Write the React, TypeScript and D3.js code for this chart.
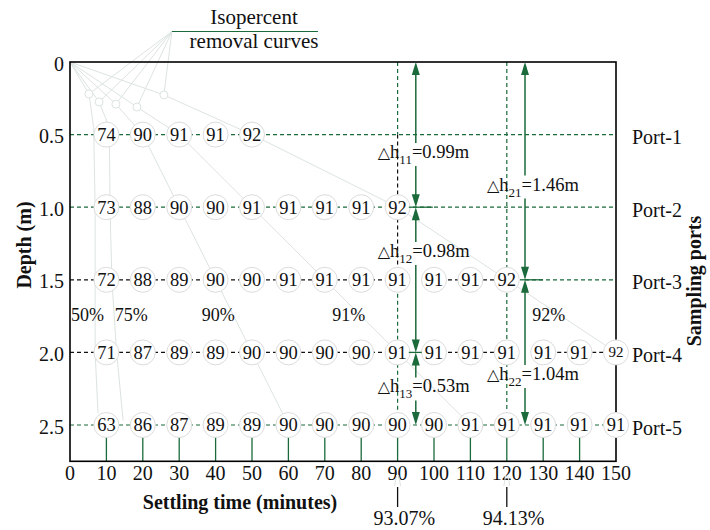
import React from "react";
import * as d3 from "d3";

// ---------- data ----------
const times = [10, 20, 30, 40, 50, 60, 70, 80, 90, 100, 110, 120, 130, 140, 150];
const depths = [0.5, 1.0, 1.5, 2.0, 2.5];
const portLabels = ["Port-1", "Port-2", "Port-3", "Port-4", "Port-5"];
const port1 = [74, 90, 91, 91, 92];
const port2 = [73, 88, 90, 90, 91, 91, 91, 91, 92];
const port3 = [72, 88, 89, 90, 90, 91, 91, 91, 91, 91, 91, 92];
const port4 = [71, 87, 89, 89, 90, 90, 90, 90, 91, 91, 91, 91, 91, 91, 92];
const port5 = [63, 86, 87, 89, 89, 90, 90, 90, 90, 90, 91, 91, 91, 91, 91];
const portValues = [port1, port2, port3, port4, port5];

const xTicks = [0, 10, 20, 30, 40, 50, 60, 70, 80, 90, 100, 110, 120, 130, 140, 150];
const yTicks = [0, 0.5, 1.0, 1.5, 2.0, 2.5];
const yTickLabels = ["0", "0.5", "1.0", "1.5", "2.0", "2.5"];

// isopercent removal curves (time, depth)
const curve50: [number, number][] = [[0, 0], [5.2, 0.22], [6.5, 0.45], [6.9, 1.0], [6.9, 1.5], [6.9, 2.0], [7.7, 2.42]];
const curve75: [number, number][] = [[0, 0], [8, 0.275], [10.8, 0.45], [11, 1.0], [11.5, 1.5], [12.8, 2.0], [14.6, 2.47]];
const curve90: [number, number][] = [[0, 0], [12.6, 0.29], [20, 0.5], [30, 1.0], [40, 1.5], [50, 2.0], [60, 2.5]];
const curve91: [number, number][] = [[0, 0], [18.4, 0.31], [30, 0.5], [50, 1.0], [70, 1.5], [90, 2.0], [110, 2.5]];
const curve92: [number, number][] = [[0, 0], [25.8, 0.227], [50, 0.5], [90, 1.0], [120, 1.5], [150, 2.0]];
const curves = [curve50, curve75, curve90, curve91, curve92];
const curveLabels = ["50%", "75%", "90%", "91%", "92%"];
const curveLabelTimes = [4.8, 16.8, 40.7, 76.6, 131.5];
const curveLabelDepth = 1.784;
const isoAnchor: [number, number] = [28, -0.21];

// delta h arrows
const arrowSub = ["11", "12", "13", "21", "22"];
const arrowValue = ["0.99m", "0.98m", "0.53m", "1.46m", "1.04m"];
const arrowTime = [95, 95, 95, 125, 125];
const arrowFrom = [0, 1.0, 2.0, 0, 1.5];
const arrowTo = [1.0, 2.0, 2.5, 1.5, 2.5];
const arrowLabelDepth = [0.661, 1.343, 2.276, 0.885, 2.19];

const removalTimes = [90, 120];
const removalLabels = ["93.07%", "94.13%"];

const GREEN = "#1b6a3b";
const CURVE = "#dce4e0";
const FONT = "'Liberation Serif', 'Times New Roman', serif";

export default function App() {
  const x = d3.scaleLinear().domain([0, 150]).range([70, 616]);
  const y = d3.scaleLinear().domain([0, 2.75]).range([62, 461.3]);
  const line = d3.line<[number, number]>().x((d) => x(d[0])).y((d) => y(d[1]));

  const rowSegs = [
    { d: 0.5, a: 0, b: 150, c: GREEN },
    { d: 1.0, a: 0, b: 150, c: GREEN },
    { d: 1.5, a: 0, b: 90, c: "#111" },
    { d: 1.5, a: 100, b: 120, c: "#111" },
    { d: 1.5, a: 125, b: 150, c: GREEN },
    { d: 2.0, a: 0, b: 90, c: "#111" },
    { d: 2.0, a: 100, b: 120, c: "#111" },
    { d: 2.0, a: 130, b: 150, c: "#111" },
    { d: 2.5, a: 0, b: 150, c: GREEN },
  ];
  const colSegs = [
    { t: 90, a: 0, b: 0.5, c: GREEN },
    { t: 90, a: 0.5, b: 1.5, c: "#111" },
    { t: 90, a: 1.5, b: 2.5, c: GREEN },
    { t: 120, a: 0, b: 2.5, c: GREEN },
  ];
  const crossbars = [
    { t: 95, d: 1.0, l: -7, r: 17 },
    { t: 125, d: 1.5, l: -5, r: 18 },
    { t: 95, d: 2.0, l: -7, r: 6 },
  ];

  const cells = portValues.flatMap((vals, i) =>
    vals.map((v, j) => ({ t: times[j], d: depths[i], v }))
  );

  const arrowHead = (cx: number, tip: number, dir: number) => {
    const len = 13, hw = 4;
    return `M${cx},${tip} L${cx - hw},${tip + dir * len} L${cx + hw},${tip + dir * len} Z`;
  };

  return (
    <svg width={710} height={530} style={{ position: "absolute", left: 0, top: 0, background: "#fff" }} fontFamily={FONT}>
      {/* isopercent curves */}
      {curves.map((c, i) => (
        <path key={"c" + i} d={line(c) || ""} fill="none" stroke={CURVE} strokeWidth={1} />
      ))}
      {curves.map((c, i) => (
        <line key={"cl" + i} x1={x(c[1][0])} y1={y(c[1][1])} x2={x(isoAnchor[0])} y2={y(isoAnchor[1])} stroke={CURVE} strokeWidth={1} />
      ))}
      {curves.map((c, i) => (
        <circle key={"ck" + i} cx={x(c[1][0])} cy={y(c[1][1])} r={4} fill="#fff" stroke={CURVE} strokeWidth={1} />
      ))}
      <line x1={x(isoAnchor[0])} x2={318} y1={y(isoAnchor[1])} y2={y(isoAnchor[1])} stroke={GREEN} strokeWidth={1.2} />
      <text x={254} y={24} fontSize={21} textAnchor="middle" fill="#111">Isopercent</text>
      <text x={254} y={48} fontSize={21} textAnchor="middle" fill="#111">removal curves</text>

      {/* dashed grid */}
      {rowSegs.map((s, i) => (
        <line key={"r" + i} x1={x(s.a)} x2={x(s.b)} y1={y(s.d)} y2={y(s.d)} stroke={s.c} strokeWidth={1.2} strokeDasharray="4,3" />
      ))}
      {colSegs.map((s, i) => (
        <line key={"v" + i} x1={x(s.t)} x2={x(s.t)} y1={y(s.a)} y2={y(s.b)} stroke={s.c} strokeWidth={1.2} strokeDasharray="4,3" />
      ))}

      {/* curve labels */}
      {curveLabels.map((l, i) => (
        <text key={"cl" + l} x={x(curveLabelTimes[i])} y={y(curveLabelDepth)} fontSize={18} textAnchor="middle" fill="#111">{l}</text>
      ))}

      {/* bottom green ticks */}
      {times.filter((t) => t < 150).map((t) => (
        <line key={"bt" + t} x1={x(t)} x2={x(t)} y1={y(2.5) + 12} y2={y(2.75)} stroke={GREEN} strokeWidth={1.3} />
      ))}

      {/* frame */}
      <rect x={x(0)} y={y(0)} width={x(150) - x(0)} height={y(2.75) - y(0)} fill="none" stroke="#000" strokeWidth={1.6} />

      {/* data circles */}
      {cells.map((c, i) => (
        <g key={"p" + i}>
          <circle cx={x(c.t)} cy={y(c.d)} r={12.5} fill="#fff" stroke="#dcdcdc" strokeWidth={1} />
          <text x={x(c.t)} y={y(c.d) + (c.t === 150 && c.d === 2.0 ? 5 : 6.3)} fontSize={c.t === 150 && c.d === 2.0 ? 15 : 18.5} textAnchor="middle" fill="#111">{c.v}</text>
        </g>
      ))}

      {/* arrows */}
      {arrowSub.map((s, i) => {
        const ax = x(arrowTime[i]);
        const y0 = y(arrowFrom[i]);
        const y1 = y(arrowTo[i]);
        const by = y(arrowLabelDepth[i]);
        return (
          <g key={"a" + s}>
            <line x1={ax} x2={ax} y1={y0 + 10} y2={by - 15} stroke={GREEN} strokeWidth={1.5} />
            <line x1={ax} x2={ax} y1={by + 8} y2={y1 - 10} stroke={GREEN} strokeWidth={1.5} />
            <path d={arrowHead(ax, y0, 1)} fill={GREEN} />
            <path d={arrowHead(ax, y1, -1)} fill={GREEN} />
            <text x={ax - 38} y={by} fontSize={18.5} fill="#111">
              <tspan fontFamily="'DejaVu Sans', sans-serif" fontSize={16}>△</tspan>
              <tspan>h</tspan>
              <tspan fontSize={13} dy={6}>{s}</tspan>
              <tspan dy={-6}>={arrowValue[i]}</tspan>
            </text>
          </g>
        );
      })}
      {crossbars.map((c, i) => (
        <line key={"cb" + i} x1={x(c.t) + c.l} x2={x(c.t) + c.r} y1={y(c.d)} y2={y(c.d)} stroke={GREEN} strokeWidth={1.3} />
      ))}

      {/* axes ticks */}
      {yTicks.map((t, i) => (
        <text key={"yt" + t} x={64} y={y(t) + 8.5} fontSize={20} textAnchor="end" fill="#111">{yTickLabels[i]}</text>
      ))}
      {xTicks.map((t) => (
        <text key={"xt" + t} x={x(t)} y={480} fontSize={20} textAnchor="middle" fill="#111">{t}</text>
      ))}

      {/* removal annotations */}
      {removalTimes.map((t, i) => (
        <g key={"rm" + t}>
          <line x1={x(t)} x2={x(t)} y1={487} y2={507} stroke="#111" strokeWidth={1.3} />
          <line x1={x(t) - 3} x2={x(t) - 1} y1={486} y2={475} stroke={CURVE} strokeWidth={1} />
          <line x1={x(t) + 3} x2={x(t) + 1} y1={486} y2={475} stroke={CURVE} strokeWidth={1} />
          <text x={x(t) - 24} y={525} fontSize={20} fill="#111">{removalLabels[i]}</text>
        </g>
      ))}

      {/* port labels */}
      {portLabels.map((p, i) => (
        <text key={p} x={632} y={y(depths[i]) + 9.5} fontSize={20} fill="#111">{p}</text>
      ))}

      {/* axis titles */}
      <text x={240} y={509} fontSize={20} fontWeight="bold" textAnchor="middle" fill="#111">Settling time (minutes)</text>
      <text transform="translate(31,245) rotate(-90)" fontSize={20} fontWeight="bold" textAnchor="middle" fill="#111">Depth (m)</text>
      <text transform="translate(701,281) rotate(-90)" fontSize={20} fontWeight="bold" textAnchor="middle" fill="#111">Sampling ports</text>
    </svg>
  );
}
